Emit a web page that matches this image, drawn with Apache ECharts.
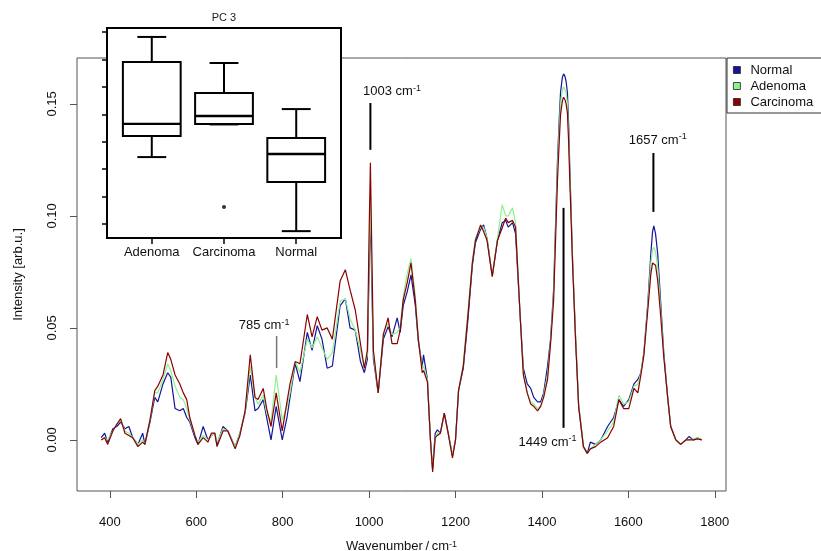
<!DOCTYPE html>
<html>
<head>
<meta charset="utf-8">
<script src="https://cdn.jsdelivr.net/npm/echarts@6/dist/echarts.min.js"></script>
<style>html,body{margin:0;padding:0;background:#fff}#c{width:821px;height:551px}</style>
</head>
<body>
<div id="c"></div>
<script>
// ---------- spectrum data ----------
const wavenumber = [
  380,388,395,407,416,425,435,444,453,465,
  476,481,493,504,511,523,534,541,551,562,
  570,578,585,597,604,616,627,635,643,648,
  662,673,690,701,713,725,736,743,755,763,
  773,785,799,810,817,829,840,857,868,880,
  891,903,915,933,945,956,968,980,989,996,
  1000,1003,1006,1010,1021,1033,1044,1053,1065,1072,
  1079,1088,1097,1107,1114,1123,1126,1135,1142,1147,
  1153,1158,1165,1174,1183,1193,1200,1207,1218,1228,
  1239,1246,1258,1265,1273,1285,1297,1308,1316,1322,
  1332,1339,1350,1357,1366,1374,1381,1390,1397,1404,
  1413,1420,1427,1436,1440,1443,1447,1450,1453,1456,1459,1462,1464,1471,1478,
  1485,1496,1505,1512,1524,1536,1552,1566,1578,1589,
  1601,1613,1622,1629,1636,1645,1652,1656,1659,1663,1668,1675,
  1682,1691,1698,1710,1721,1733,1740,1751,1760,1770
];
const normal = [
  0.001,0.003,-0.001,0.005,0.006,0.008,0.005,0.006,0.001,-0.002,
  0.003,-0.002,0.008,0.019,0.017,0.025,0.030,0.028,0.014,0.013,
  0.014,0.010,0.008,0.001,-0.002,0.006,0.000,0.002,0.003,-0.002,
  0.006,0.004,-0.003,0.003,0.012,0.029,0.013,0.014,0.018,0.010,
  0.000,0.015,0.000,0.010,0.019,0.034,0.026,0.048,0.040,0.051,
  0.045,0.032,0.033,0.060,0.063,0.050,0.049,0.035,0.030,0.036,
  0.075,0.1027,0.072,0.036,0.021,0.045,0.0505,0.046,0.0545,0.048,
  0.060,0.066,0.0737,0.060,0.044,0.033,0.038,0.027,0.000,-0.013,
  0.003,0.0045,0.003,0.012,0.003,-0.007,0.000,0.022,0.032,0.052,
  0.078,0.088,0.094,0.096,0.090,0.073,0.089,0.097,0.098,0.095,
  0.097,0.092,0.054,0.032,0.025,0.023,0.019,0.017,0.017,0.021,
  0.033,0.045,0.067,0.125,0.143,0.155,0.1615,0.1634,0.1625,0.160,0.155,0.140,0.125,0.080,0.045,
  0.015,-0.003,-0.006,-0.001,-0.002,0.000,0.006,0.010,0.018,0.015,
  0.018,0.025,0.027,0.030,0.039,0.061,0.083,0.093,0.0955,0.092,0.083,0.061,
  0.039,0.019,0.006,0.000,-0.002,0.000,0.0015,0.000,0.001,0.000
];
const adenoma = [
  0.000,0.001,0.000,0.004,0.007,0.009,0.004,0.003,0.001,-0.002,
  0.000,-0.002,0.009,0.021,0.021,0.027,0.034,0.031,0.024,0.019,
  0.018,0.014,0.009,0.002,-0.001,0.002,0.000,0.002,0.003,-0.001,
  0.005,0.004,-0.003,0.003,0.012,0.033,0.019,0.016,0.020,0.012,
  0.008,0.029,0.009,0.015,0.021,0.035,0.030,0.045,0.041,0.046,
  0.041,0.036,0.039,0.062,0.063,0.054,0.049,0.040,0.032,0.038,
  0.082,0.1085,0.078,0.038,0.021,0.048,0.052,0.047,0.048,0.050,
  0.064,0.074,0.081,0.064,0.045,0.032,0.033,0.027,0.000,-0.013,
  0.001,0.003,0.003,0.012,0.003,-0.007,0.000,0.022,0.034,0.056,
  0.080,0.090,0.095,0.095,0.090,0.073,0.090,0.105,0.100,0.100,
  0.1036,0.097,0.054,0.030,0.021,0.017,0.016,0.014,0.015,0.020,
  0.029,0.044,0.065,0.121,0.139,0.150,0.156,0.1577,0.157,0.155,0.150,0.136,0.122,0.080,0.046,
  0.016,-0.003,-0.006,-0.004,-0.002,0.000,0.004,0.008,0.020,0.016,
  0.017,0.024,0.025,0.030,0.039,0.060,0.079,0.085,0.086,0.084,0.077,0.058,
  0.038,0.019,0.006,0.000,-0.002,0.000,0.000,0.0005,0.001,0.000
];
const carcinoma = [
  0.000,0.001,-0.002,0.004,0.007,0.0095,0.003,0.002,0.001,-0.003,
  -0.001,-0.002,0.009,0.022,0.024,0.029,0.039,0.036,0.029,0.025,
  0.021,0.018,0.010,0.002,-0.002,0.001,-0.001,0.003,0.003,-0.003,
  0.004,0.004,-0.004,0.002,0.013,0.038,0.019,0.018,0.023,0.014,
  0.006,0.021,0.004,0.017,0.025,0.035,0.034,0.056,0.046,0.055,
  0.049,0.050,0.045,0.071,0.076,0.067,0.058,0.043,0.032,0.040,
  0.092,0.1237,0.088,0.040,0.021,0.047,0.0545,0.043,0.043,0.049,
  0.0625,0.070,0.079,0.062,0.045,0.030,0.031,0.026,0.000,-0.0143,
  0.001,0.002,0.003,0.012,0.003,-0.008,0.000,0.022,0.033,0.054,
  0.079,0.089,0.096,0.093,0.089,0.073,0.089,0.0946,0.099,0.097,
  0.098,0.095,0.054,0.029,0.021,0.016,0.015,0.013,0.015,0.019,
  0.027,0.043,0.062,0.116,0.133,0.145,0.151,0.153,0.152,0.150,0.146,0.132,0.119,0.078,0.044,
  0.015,-0.003,-0.006,-0.004,-0.003,-0.001,0.001,0.006,0.018,0.014,
  0.014,0.023,0.021,0.029,0.038,0.058,0.074,0.079,0.0795,0.078,0.071,0.055,
  0.037,0.019,0.006,0.000,-0.002,0.000,0.000,0.000,0.0005,0.000
];
const seriesNames = ['Normal', 'Adenoma', 'Carcinoma'];
const xTicks = [400, 600, 800, 1000, 1200, 1400, 1600, 1800];
const yTicks = [0, 0.05, 0.10, 0.15];

// ---------- peak annotations ----------
const annWavenumber = [786, 1003, 1450, 1658];
const annTop = [0.0464, 0.1504, 0.1036, 0.1281];
const annBottom = [0.0321, 0.1295, 0.0054, 0.1018];
const annLabelX = [757, 1053, 1413, 1668];
const annLabelY = [0.0509, 0.1554, -0.0009, 0.1339];
const annText = ['785', '1003', '1449', '1657'];

// ---------- inset boxplot (PC 3) ----------
const boxGroups = ['Adenoma', 'Carcinoma', 'Normal'];
const boxLow = [2.44, 3.63, -0.26];
const boxQ1 = [3.21, 3.65, 1.53];
const boxMedian = [3.65, 3.94, 2.55];
const boxQ3 = [5.91, 4.78, 3.14];
const boxHigh = [6.82, 5.87, 4.19];
const outlierGroup = [2];
const outlierValue = [0.62];
const insetTicks = [0, 1, 2, 3, 4, 5, 6, 7];

const FONT = '"Liberation Sans", Arial, Helvetica, sans-serif';
const colors = ['#14149a', '#8ef08e', '#8b0000'];

function pairs(ys) { return wavenumber.map((x, i) => [x, ys[i]]); }

const chart = echarts.init(document.getElementById('c'), null, {renderer: 'canvas'});

const annData = annWavenumber.map((x, i) => [x, annTop[i], annBottom[i], annLabelX[i], annLabelY[i], i]);
const boxData = boxGroups.map((g, i) => [i + 1, boxLow[i], boxQ1[i], boxMedian[i], boxQ3[i], boxHigh[i]]);

const option = {
  animation: false,
  textStyle: {fontFamily: FONT},
  grid: [
    {left: 77, top: 58, right: 95, bottom: 60, show: true, borderColor: '#555', borderWidth: 1,
      backgroundColor: 'transparent', containLabel: false, outerBoundsMode: 'none'},
    {left: 107, top: 28, width: 234, height: 210, show: true, borderColor: '#000', borderWidth: 2,
      backgroundColor: '#fff', containLabel: false, outerBoundsMode: 'none'}
  ],
  graphic: [{
    type: 'text', x: 224, y: 18, z: 100,
    style: {text: 'PC 3', fontSize: 11, fontFamily: FONT, fill: '#222', align: 'center', verticalAlign: 'middle', textAlign: 'center', textVerticalAlign: 'middle'}
  }],
  legend: {
    data: seriesNames,
    orient: 'vertical',
    left: 727, top: 58,
    padding: [4, 60, 3, 6],
    itemGap: 0,
    itemWidth: 7, itemHeight: 7,
    icon: 'rect',
    borderColor: '#333', borderWidth: 1,
    itemStyle: {borderColor: '#222', borderWidth: 0.8},
    textStyle: {fontSize: 13, fontFamily: FONT, color: '#111', lineHeight: 16, padding: [0, 0, 0, 5]}
  },
  xAxis: [
    {
      type: 'value', gridIndex: 0, min: 324, max: 1826,
      splitLine: {show: false},
      axisLine: {show: false, onZero: false},
      axisTick: {show: true, customValues: xTicks, length: 7, lineStyle: {color: '#555'}},
      axisLabel: {customValues: xTicks, margin: 25, fontSize: 13, color: '#111', fontFamily: FONT,
        formatter: v => String(v)},
      name: 'Wavenumber\u2009/\u2009cm{s|-1}',
      nameLocation: 'middle', nameGap: 49,
      nameTextStyle: {fontSize: 13, color: '#111', fontFamily: FONT, rich: {s: {fontSize: 9, verticalAlign: 'top', lineHeight: 13}}}
    },
    {
      type: 'value', gridIndex: 1, min: 0.38, max: 3.62,
      splitLine: {show: false},
      axisLine: {show: false, onZero: false},
      axisTick: {show: true, customValues: [1, 2, 3], length: 6, lineStyle: {color: '#000', width: 1.5}},
      axisLabel: {customValues: [1, 2, 3], margin: 8, fontSize: 13, color: '#111', fontFamily: FONT,
        formatter: v => boxGroups[Math.round(v) - 1] || ''}
    }
  ],
  yAxis: [
    {
      type: 'value', gridIndex: 0, min: -0.0228, max: 0.1705,
      splitLine: {show: false},
      axisLine: {show: false, onZero: false},
      axisTick: {show: true, customValues: yTicks, length: 7, lineStyle: {color: '#555'}},
      axisLabel: {customValues: yTicks, rotate: 90, margin: 18, fontSize: 13, color: '#111', fontFamily: FONT,
        formatter: v => v.toFixed(2)},
      name: 'Intensity [arb.u.]', nameLocation: 'middle', nameGap: 52,
      nameTextStyle: {fontSize: 13, color: '#111', fontFamily: FONT}
    },
    {
      type: 'value', gridIndex: 1, min: -0.51, max: 7.146,
      splitLine: {show: false},
      axisLine: {show: false, onZero: false},
      axisTick: {show: true, customValues: insetTicks, length: 5, lineStyle: {color: '#000', width: 1.5}},
      axisLabel: {show: false}
    }
  ],
  series: [
    {name: 'Normal', type: 'line', xAxisIndex: 0, yAxisIndex: 0, data: pairs(normal), showSymbol: false, symbol: 'none',
      lineStyle: {color: colors[0], width: 1.2}, itemStyle: {color: colors[0]}, z: 3},
    {name: 'Adenoma', type: 'line', xAxisIndex: 0, yAxisIndex: 0, data: pairs(adenoma), showSymbol: false, symbol: 'none',
      lineStyle: {color: colors[1], width: 1.2}, itemStyle: {color: colors[1]}, z: 4},
    {name: 'Carcinoma', type: 'line', xAxisIndex: 0, yAxisIndex: 0, data: pairs(carcinoma), showSymbol: false, symbol: 'none',
      lineStyle: {color: colors[2], width: 1.2}, itemStyle: {color: colors[2]}, z: 5},
    {
      name: 'annotations', type: 'custom', xAxisIndex: 0, yAxisIndex: 0, data: annData, z: 6, silent: true,
      renderItem: function (params, api) {
        const i = api.value(5);
        const p1 = api.coord([api.value(0), api.value(1)]);
        const p2 = api.coord([api.value(0), api.value(2)]);
        const pl = api.coord([api.value(3), api.value(4)]);
        const grey = annText[i] === '785';
        return {
          type: 'group',
          children: [
            {type: 'line', shape: {x1: p1[0], y1: p1[1], x2: p2[0], y2: p2[1]},
              style: {stroke: grey ? '#777' : '#000', lineWidth: grey ? 1.5 : 2}},
            {type: 'text', x: pl[0], y: pl[1],
              style: {text: '{n|' + annText[i] + ' cm}{s|-1}', align: 'center', verticalAlign: 'middle',
                textAlign: 'center', textVerticalAlign: 'middle', fill: '#111',
                rich: {n: {fontSize: 13, fontFamily: FONT, fill: '#111', lineHeight: 15},
                       s: {fontSize: 9, fontFamily: FONT, fill: '#111', verticalAlign: 'top', lineHeight: 15}}}}
          ]
        };
      }
    },
    {
      name: 'pc3', type: 'custom', xAxisIndex: 1, yAxisIndex: 1, data: boxData, z: 10, silent: true,
      renderItem: function (params, api) {
        const x = api.value(0);
        const lo = api.coord([x, api.value(1)]);
        const q1 = api.coord([x, api.value(2)]);
        const md = api.coord([x, api.value(3)]);
        const q3 = api.coord([x, api.value(4)]);
        const hi = api.coord([x, api.value(5)]);
        const half = api.size([0.4, 0])[0];
        const cap = half / 2;
        const cx = lo[0];
        const st = {stroke: '#000', lineWidth: 2, fill: null};
        return {
          type: 'group',
          children: [
            {type: 'line', shape: {x1: cx, y1: q3[1], x2: cx, y2: hi[1]}, style: st},
            {type: 'line', shape: {x1: cx - cap, y1: hi[1], x2: cx + cap, y2: hi[1]}, style: st},
            {type: 'line', shape: {x1: cx, y1: q1[1], x2: cx, y2: lo[1]}, style: st},
            {type: 'line', shape: {x1: cx - cap, y1: lo[1], x2: cx + cap, y2: lo[1]}, style: st},
            {type: 'rect', shape: {x: cx - half, y: q3[1], width: 2 * half, height: q1[1] - q3[1]},
              style: {stroke: '#000', lineWidth: 2, fill: '#fff'}},
            {type: 'line', shape: {x1: cx - half, y1: md[1], x2: cx + half, y2: md[1]}, style: {stroke: '#000', lineWidth: 2.4}}
          ]
        };
      }
    },
    {
      name: 'outliers', type: 'scatter', xAxisIndex: 1, yAxisIndex: 1, z: 11, silent: true,
      data: outlierGroup.map((g, i) => [g, outlierValue[i]]),
      symbol: 'circle', symbolSize: 4, itemStyle: {color: '#000'}
    }
  ]
};
chart.setOption(option);
</script>
</body>
</html>
